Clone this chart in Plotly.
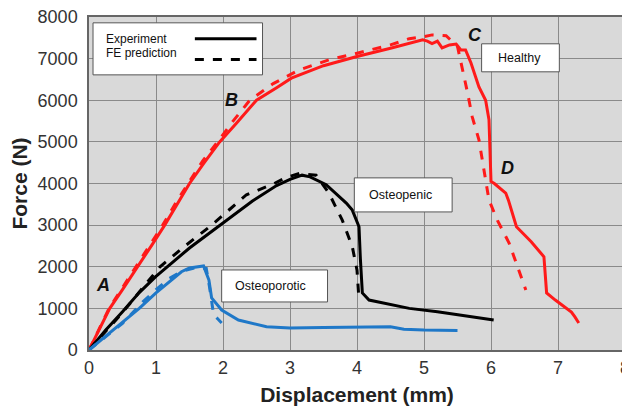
import plotly.graph_objects as go

# ---------------- data ----------------
healthy_exp_x = [0, 0.15, 0.31, 0.5, 0.73, 0.95, 1.13, 1.33, 1.5, 1.72, 1.95, 2.2, 2.5, 2.8, 3.02, 3.5, 4.0,
                 4.5, 4.75, 4.98, 5.05, 5.12, 5.2, 5.27, 5.38, 5.48, 5.55, 5.62, 5.7, 5.82, 5.92, 5.97, 6.0,
                 6.05, 6.22, 6.26, 6.38, 6.6, 6.79, 6.83, 6.96, 7.2, 7.25, 7.31]
healthy_exp_y = [0, 480, 1000, 1450, 2000, 2550, 3000, 3550, 4000, 4500, 5000, 5450, 6000, 6300, 6530, 6830, 7050,
                 7250, 7350, 7450, 7420, 7360, 7420, 7260, 7330, 7350, 7210, 7210, 6900, 6320, 6000, 5530, 4050,
                 4000, 3770, 3600, 2960, 2600, 2240, 1370, 1200, 910, 800, 650]

healthy_fe_x = [0, 0.3, 0.7, 1.1, 1.3, 1.5, 1.7, 1.92, 2.15, 2.4, 2.75, 3.14, 3.6, 4.0, 4.5, 4.78, 4.97,
                5.12, 5.33, 5.5, 5.57, 5.65, 5.72, 5.82, 5.97, 6.1, 6.27, 6.52]
healthy_fe_y = [0, 1000, 2000, 3000, 3550, 4050, 4550, 5000, 5500, 6000, 6400, 6730, 6980, 7130, 7330, 7480, 7520,
                7570, 7550, 7290, 6800, 6180, 5600, 5050, 3600, 3100, 2570, 1440]

osteopenic_exp_x = [0, 0.25, 0.5, 0.75, 1.0, 1.25, 1.5, 2.0, 2.44, 2.8, 3.0, 3.18, 3.3, 3.54, 3.84, 3.93, 4.03,
                    4.05, 4.08, 4.18, 4.5, 4.78, 5.2, 5.52, 6.04]
osteopenic_exp_y = [0, 480, 920, 1380, 1770, 2120, 2450, 3050, 3580, 3950, 4100, 4200, 4160, 3970, 3530, 3360, 2960,
                    2200, 1370, 1200, 1100, 1000, 920, 850, 720]

osteopenic_fe_x = [0, 0.5, 1.06, 1.45, 1.83, 2.35, 2.74, 2.95, 3.14, 3.39, 3.58, 3.78, 3.93, 4.0, 4.03]
osteopenic_fe_y = [0, 900, 2000, 2520, 3000, 3730, 3980, 4150, 4240, 4200, 3770, 3120, 2480, 1920, 1200]

osteoporotic_exp_x = [0, 0.25, 0.5, 0.75, 1.0, 1.2, 1.38, 1.5, 1.6, 1.71, 1.79, 1.83, 1.98, 2.23, 2.65, 3.0,
                      3.5, 4.0, 4.5, 4.7, 5.0, 5.5]
osteoporotic_exp_y = [0, 330, 650, 1000, 1370, 1650, 1880, 1970, 2000, 2020, 1680, 1250, 960, 720, 560, 530,
                      540, 550, 560, 500, 480, 470]

osteoporotic_fe_x = [0, 0.5, 0.8, 1.0, 1.2, 1.4, 1.6, 1.75, 1.8, 1.86, 1.92, 1.98]
osteoporotic_fe_y = [0, 640, 1150, 1450, 1720, 1900, 1980, 1960, 1500, 850, 750, 650]

x_ticks = [0, 1, 2, 3, 4, 5, 6, 7, 8]
y_ticks = [0, 1000, 2000, 3000, 4000, 5000, 6000, 7000, 8000]

RED = "#ff1a1a"
BLACK = "#000000"
BLUE = "#1f78c8"

fig = go.Figure()

def add(x, y, color, dash):
    fig.add_trace(go.Scatter(x=x, y=y, mode="lines", showlegend=False,
                             line=dict(color=color, width=3, dash=dash)))

add(healthy_fe_x, healthy_fe_y, RED, "dash")
add(healthy_exp_x, healthy_exp_y, RED, "solid")
add(osteopenic_fe_x, osteopenic_fe_y, BLACK, "dash")
add(osteopenic_exp_x, osteopenic_exp_y, BLACK, "solid")
add(osteoporotic_fe_x, osteoporotic_fe_y, BLUE, "dash")
add(osteoporotic_exp_x, osteoporotic_exp_y, BLUE, "solid")

FONT = "Liberation Sans, Arial, sans-serif"

shapes = []
annotations = []

# legend box
shapes.append(dict(type="rect", xref="x", yref="y", x0=0.06, x1=2.59, y0=6610, y1=7860,
                   fillcolor="white", line=dict(color="#555", width=1), layer="above"))
shapes.append(dict(type="line", xref="x", yref="y", x0=1.58, x1=2.5, y0=7480, y1=7480,
                   line=dict(color="black", width=3), layer="above"))
shapes.append(dict(type="line", xref="x", yref="y", x0=1.58, x1=2.5, y0=6980, y1=6980,
                   line=dict(color="black", width=3, dash="dash"), layer="above"))
annotations.append(dict(x=0.23, y=7480, xref="x", yref="y", text="Experiment", showarrow=False,
                        xanchor="left", font=dict(size=12, color="#111", family=FONT)))
annotations.append(dict(x=0.23, y=7130, xref="x", yref="y", text="FE prediction", showarrow=False,
                        xanchor="left", font=dict(size=12, color="#111", family=FONT)))

# label boxes
boxes = [
    (5.86, 7.02, 6683, 7356, "Healthy", 6.43),
    (3.96, 5.42, 3317, 4135, "Osteopenic", 4.65),
    (1.98, 3.56, 1154, 1923, "Osteoporotic", 2.71),
]
for x0, x1, y0, y1, txt, xc in boxes:
    shapes.append(dict(type="rect", xref="x", yref="y", x0=x0, x1=x1, y0=y0, y1=y1,
                       fillcolor="white", line=dict(color="#555", width=1), layer="above"))
    annotations.append(dict(x=xc, y=(y0 + y1) / 2, xref="x", yref="y", text=txt, showarrow=False,
                            font=dict(size=12.5, color="#111", family=FONT)))

# letters
for lx, ly, t in [(0.21, 1560, "A"), (2.13, 6010, "B"), (5.76, 7570, "C"), (6.25, 4370, "D")]:
    annotations.append(dict(x=lx, y=ly, xref="x", yref="y", text="<b><i>%s</i></b>" % t, showarrow=False,
                            font=dict(size=18, color="#111", family=FONT)))

# the page body adds an 8 px offset, so the figure is sized to the visible area
fig.update_layout(
    width=622, height=404,
    margin=dict(l=81, r=5, t=9, b=62),
    paper_bgcolor="white",
    plot_bgcolor="#d9d9d9",
    shapes=shapes,
    annotations=annotations,
    font=dict(family=FONT, color="#333"),
    xaxis=dict(range=[0, 8], tickvals=x_ticks, ticktext=[str(v) for v in x_ticks],
               automargin=False, ticklabeloverflow="allow",
               showgrid=True, gridcolor="#8a8a8a", gridwidth=1, zeroline=False,
               showline=True, linecolor="#666", linewidth=1.5, mirror=True,
               ticks="outside", ticklen=1, tickcolor="rgba(0,0,0,0)",
               tickfont=dict(size=18, color="#333", family=FONT),
               title=dict(text="<b>Displacement (mm)</b>", font=dict(size=21, color="#222", family=FONT),
                          standoff=10)),
    yaxis=dict(range=[0, 8000], tickvals=y_ticks, ticktext=[str(v) for v in y_ticks],
               automargin=False, ticklabeloverflow="allow",
               showgrid=True, gridcolor="#8a8a8a", gridwidth=1, zeroline=False,
               showline=True, linecolor="#666", linewidth=1.5, mirror=True,
               ticks="outside", ticklen=6, tickcolor="rgba(0,0,0,0)",
               tickfont=dict(size=18, color="#333", family=FONT),
               title=dict(text="<b>Force (N)</b>", font=dict(size=21, color="#222", family=FONT),
                          standoff=6)),
)

fig.write_html("out.html")
